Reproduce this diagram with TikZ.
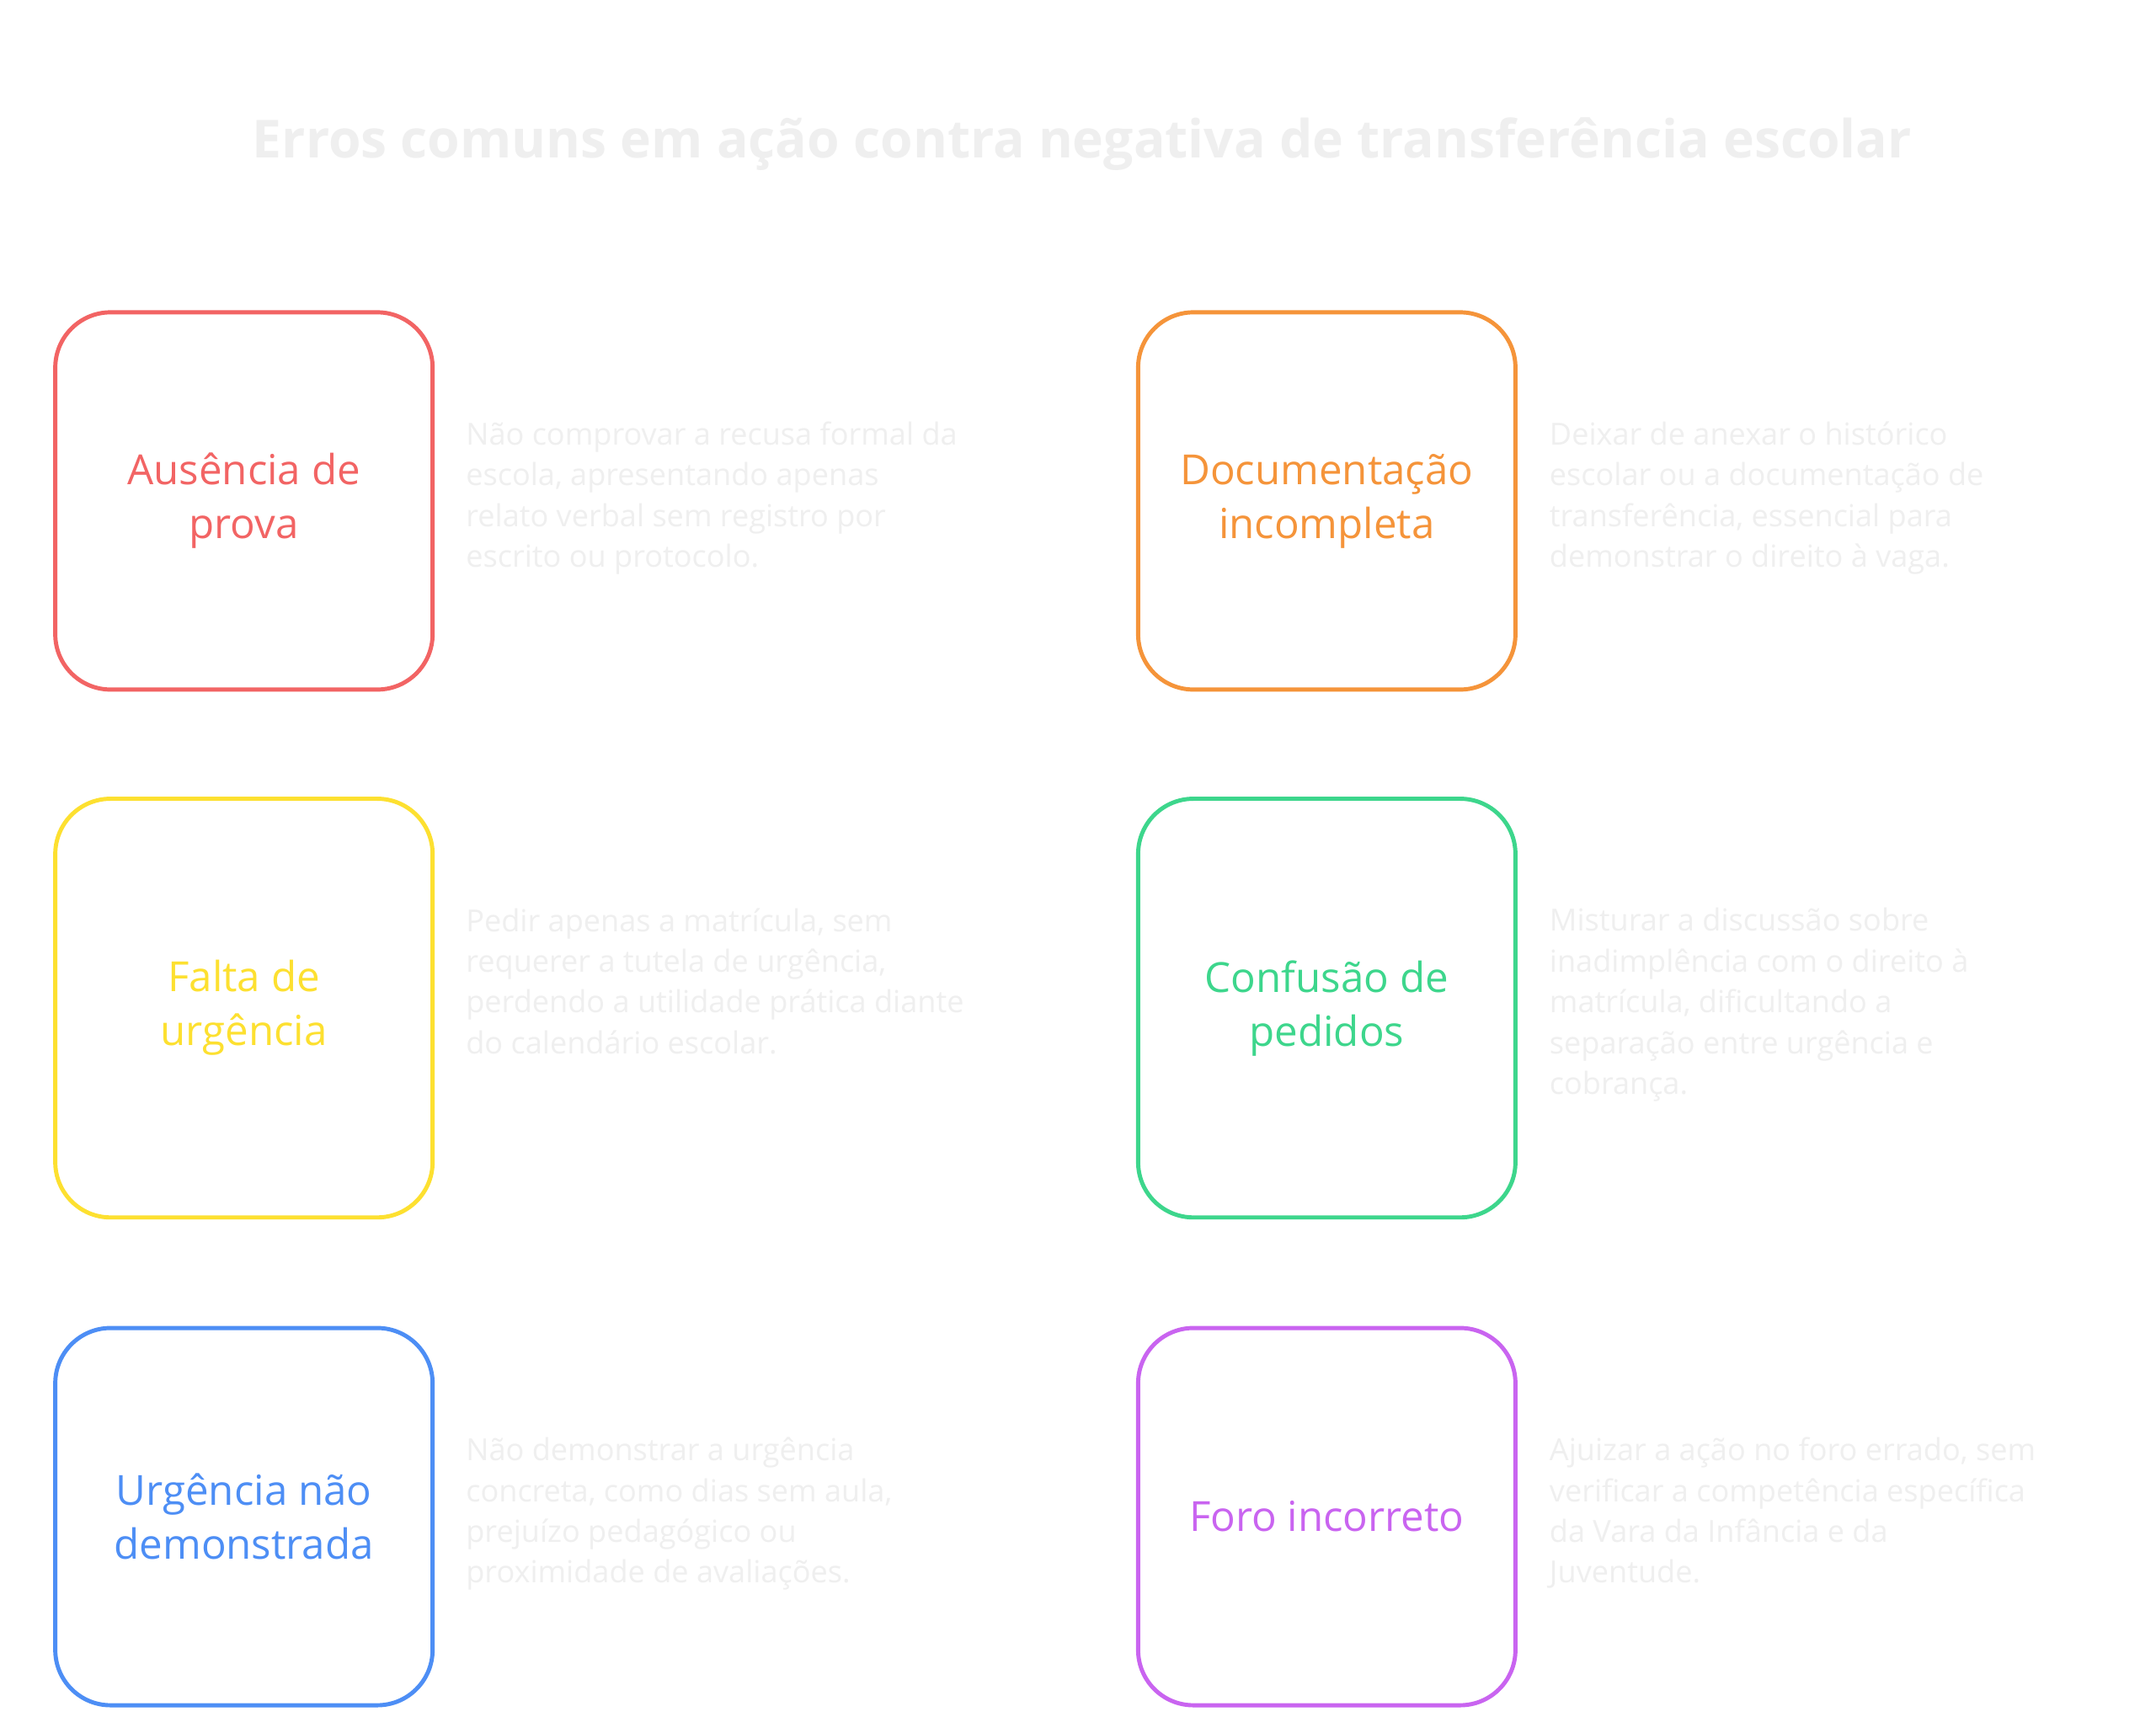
\documentclass[tikz,border=0pt]{standalone}
\usepackage{fontspec}
\setmainfont{Open Sans}
\definecolor{cr}{HTML}{F26464}
\definecolor{co}{HTML}{F5943A}
\definecolor{cy}{HTML}{FDE030}
\definecolor{cg}{HTML}{3DD68C}
\definecolor{cb}{HTML}{4D8EF5}
\definecolor{cp}{HTML}{C964F0}
\definecolor{lt}{HTML}{EFEFEF}
\begin{document}
\begin{tikzpicture}[x=1pt,y=1pt,
  box/.style={draw,line width=3pt,rounded corners=40pt,fill=white,align=center,inner sep=0pt,
    font=\fontsize{30}{39}\selectfont},
  desc/.style={anchor=north west,align=left,inner sep=0pt,text=lt,font=\fontsize{22}{29.5}\selectfont}]
\useasboundingbox (0,0) rectangle (1560,-1254);
\fill[white] (0,0) rectangle (1560,-1254);
\node[text=lt,font=\bfseries\fontsize{38}{44}\selectfont] (title) at (783,-104) {Erros comuns em ação contra negativa de transferência escolar};
% row 1
\node[box,draw=cr,text=cr,minimum width=273pt,minimum height=273pt] (b1) at (176.5,-362.5) {Ausência de\\prova};
\node[desc] (d1) at (337,-305) {Não comprovar a recusa formal da\\escola, apresentando apenas\\relato verbal sem registro por\\escrito ou protocolo.};
\node[box,draw=co,text=co,minimum width=273pt,minimum height=273pt] (b2) at (960,-362.5) {Documentação\\incompleta};
\node[desc] (d2) at (1121,-305) {Deixar de anexar o histórico\\escolar ou a documentação de\\transferência, essencial para\\demonstrar o direito à vaga.};
% row 2
\node[box,draw=cy,text=cy,minimum width=273pt,minimum height=303pt] (b3) at (176.5,-729.5) {Falta de\\urgência};
\node[desc] (d3) at (337,-657) {Pedir apenas a matrícula, sem\\requerer a tutela de urgência,\\perdendo a utilidade prática diante\\do calendário escolar.};
\node[box,draw=cg,text=cg,minimum width=273pt,minimum height=303pt] (b4) at (960,-729.5) {Confusão de\\pedidos};
\node[desc] (d4) at (1121,-657) {Misturar a discussão sobre\\inadimplência com o direito à\\matrícula, dificultando a\\separação entre urgência e\\cobrança.};
% row 3
\node[box,draw=cb,text=cb,minimum width=273pt,minimum height=273pt] (b5) at (176.5,-1097.5) {Urgência não\\demonstrada};
\node[desc] (d5) at (337,-1040) {Não demonstrar a urgência\\concreta, como dias sem aula,\\prejuízo pedagógico ou\\proximidade de avaliações.};
\node[box,draw=cp,text=cp,minimum width=273pt,minimum height=273pt] (b6) at (960,-1097.5) {Foro incorreto};
\node[desc] (d6) at (1121,-1040) {Ajuizar a ação no foro errado, sem\\verificar a competência específica\\da Vara da Infância e da\\Juventude.};
\end{tikzpicture}
\end{document}
